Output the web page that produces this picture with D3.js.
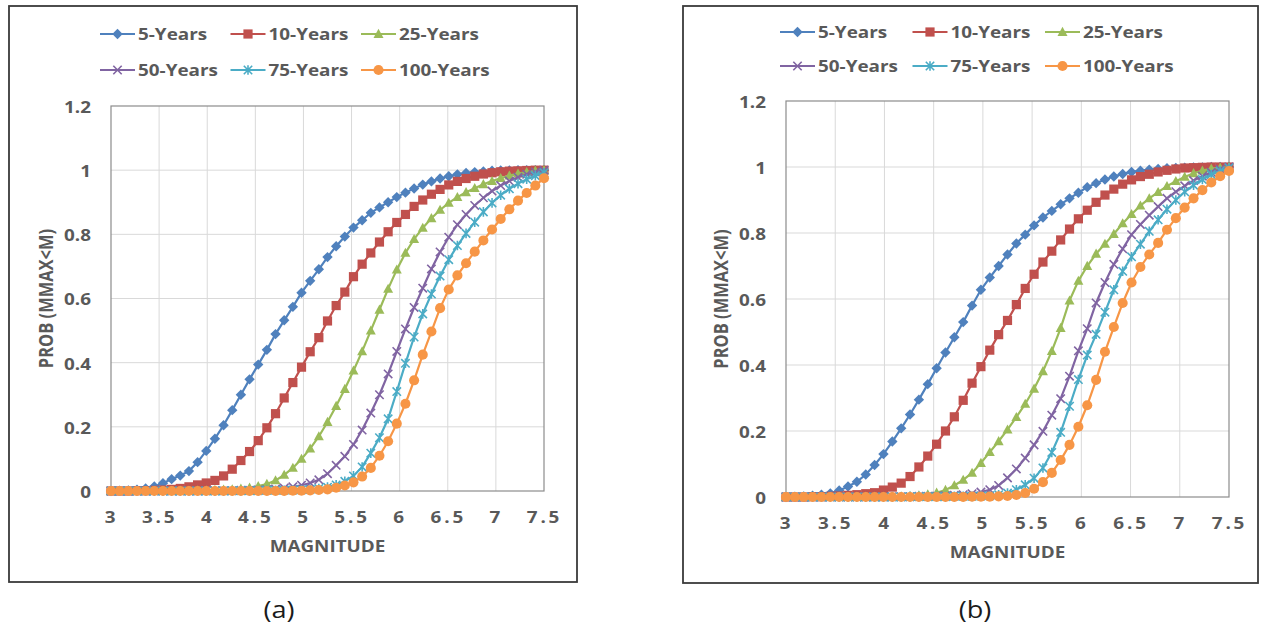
<!DOCTYPE html>
<html>
<head>
<meta charset="utf-8">
<script src="https://cdn.jsdelivr.net/npm/d3@7"></script>
<style>
  body { margin: 0; background: #fff; }
  text { font-family: 'Open Sans', sans-serif; }
</style>
</head>
<body>
<div id="mount"></div>
<script>
'use strict';

// the source picture is stretched sideways, so text gets a small x-scale
const SX = 1.18;

const magnitudes = [3.00, 3.09, 3.18, 3.27, 3.36, 3.45, 3.54, 3.63, 3.72, 3.81,
  3.90, 3.99, 4.08, 4.17, 4.26, 4.35, 4.44, 4.53, 4.62, 4.71,
  4.80, 4.89, 4.98, 5.07, 5.16, 5.25, 5.34, 5.43, 5.52, 5.61,
  5.70, 5.79, 5.88, 5.97, 6.06, 6.15, 6.24, 6.33, 6.42, 6.51,
  6.60, 6.69, 6.78, 6.87, 6.96, 7.05, 7.14, 7.23, 7.32, 7.41, 7.50];

const seriesNames = ['5-Years', '10-Years', '25-Years', '50-Years', '75-Years', '100-Years'];
const seriesColors = ['#4F81BD', '#C0504D', '#9BBB59', '#8064A2', '#4BACC6', '#F79646'];
const seriesMarkers = ['diamond', 'square', 'triangle', 'x', 'asterisk', 'circle'];

const xTicks = [3, 3.5, 4, 4.5, 5, 5.5, 6, 6.5, 7, 7.5];
const yTicks = [0, 0.2, 0.4, 0.6, 0.8, 1, 1.2];

// panel (a)
const probA5 = [0.000, 0.001, 0.002, 0.004, 0.008, 0.014, 0.024, 0.037, 0.048, 0.062,
  0.090, 0.125, 0.163, 0.205, 0.252, 0.300, 0.348, 0.394, 0.440, 0.489,
  0.532, 0.574, 0.618, 0.655, 0.691, 0.729, 0.763, 0.793, 0.821, 0.844,
  0.867, 0.884, 0.900, 0.916, 0.930, 0.943, 0.955, 0.965, 0.974, 0.981,
  0.987, 0.991, 0.994, 0.996, 0.998, 0.999, 0.999, 1.000, 1.000, 1.000, 1.000];
const probA10 = [0.000, 0.000, 0.000, 0.001, 0.001, 0.002, 0.003, 0.005, 0.008, 0.013,
  0.019, 0.025, 0.033, 0.047, 0.068, 0.095, 0.123, 0.157, 0.197, 0.241,
  0.290, 0.338, 0.386, 0.434, 0.478, 0.530, 0.578, 0.620, 0.668, 0.707,
  0.742, 0.776, 0.808, 0.837, 0.862, 0.887, 0.907, 0.925, 0.940, 0.954,
  0.965, 0.974, 0.981, 0.988, 0.992, 0.995, 0.997, 0.998, 0.999, 1.000, 1.000];
const probA25 = [0.000, 0.000, 0.000, 0.000, 0.000, 0.000, 0.000, 0.001, 0.001, 0.001,
  0.002, 0.002, 0.003, 0.004, 0.005, 0.007, 0.010, 0.015, 0.022, 0.033,
  0.050, 0.072, 0.100, 0.132, 0.170, 0.215, 0.265, 0.318, 0.375, 0.435,
  0.500, 0.565, 0.630, 0.690, 0.742, 0.785, 0.820, 0.850, 0.876, 0.898,
  0.916, 0.931, 0.944, 0.956, 0.966, 0.975, 0.983, 0.989, 0.994, 0.998, 1.000];
const probA50 = [0.000, 0.000, 0.000, 0.000, 0.000, 0.000, 0.000, 0.000, 0.000, 0.000,
  0.000, 0.001, 0.001, 0.001, 0.001, 0.002, 0.002, 0.003, 0.004, 0.006,
  0.009, 0.013, 0.018, 0.025, 0.035, 0.054, 0.080, 0.108, 0.145, 0.190,
  0.243, 0.300, 0.365, 0.435, 0.505, 0.572, 0.632, 0.692, 0.745, 0.791,
  0.830, 0.862, 0.890, 0.914, 0.935, 0.952, 0.966, 0.978, 0.987, 0.994, 1.000];
const probA75 = [0.000, 0.000, 0.000, 0.000, 0.000, 0.000, 0.000, 0.000, 0.000, 0.000,
  0.000, 0.000, 0.000, 0.000, 0.001, 0.001, 0.001, 0.001, 0.002, 0.002,
  0.002, 0.003, 0.004, 0.005, 0.008, 0.012, 0.019, 0.030, 0.047, 0.075,
  0.118, 0.166, 0.225, 0.310, 0.398, 0.480, 0.552, 0.614, 0.670, 0.721,
  0.765, 0.803, 0.838, 0.870, 0.898, 0.922, 0.942, 0.958, 0.972, 0.983, 0.992];
const probA100 = [0.000, 0.000, 0.000, 0.000, 0.000, 0.000, 0.000, 0.000, 0.000, 0.000,
  0.000, 0.000, 0.000, 0.000, 0.000, 0.000, 0.000, 0.000, 0.000, 0.000,
  0.000, 0.001, 0.001, 0.002, 0.003, 0.005, 0.010, 0.017, 0.027, 0.045,
  0.072, 0.110, 0.155, 0.210, 0.272, 0.345, 0.425, 0.497, 0.570, 0.628,
  0.672, 0.710, 0.746, 0.781, 0.815, 0.848, 0.878, 0.905, 0.929, 0.952, 0.975];

// panel (b)
const probB5 = [0.000, 0.001, 0.002, 0.004, 0.007, 0.011, 0.020, 0.032, 0.046, 0.068,
  0.097, 0.130, 0.168, 0.208, 0.250, 0.295, 0.342, 0.390, 0.438, 0.484,
  0.530, 0.580, 0.628, 0.665, 0.700, 0.735, 0.768, 0.795, 0.823, 0.847,
  0.867, 0.887, 0.905, 0.922, 0.939, 0.951, 0.962, 0.971, 0.979, 0.985,
  0.989, 0.992, 0.994, 0.996, 0.997, 0.998, 0.999, 0.999, 1.000, 1.000, 1.000];
const probB10 = [0.000, 0.000, 0.000, 0.001, 0.001, 0.002, 0.003, 0.005, 0.007, 0.010,
  0.013, 0.021, 0.030, 0.042, 0.062, 0.091, 0.124, 0.160, 0.200, 0.243,
  0.293, 0.345, 0.395, 0.445, 0.492, 0.535, 0.583, 0.632, 0.675, 0.712,
  0.745, 0.779, 0.812, 0.843, 0.869, 0.893, 0.915, 0.933, 0.948, 0.961,
  0.971, 0.978, 0.985, 0.990, 0.994, 0.997, 0.998, 0.999, 1.000, 1.000, 1.000];
const probB25 = [0.000, 0.000, 0.000, 0.000, 0.000, 0.000, 0.000, 0.000, 0.001, 0.001,
  0.001, 0.001, 0.002, 0.002, 0.003, 0.005, 0.008, 0.013, 0.021, 0.035,
  0.052, 0.073, 0.103, 0.136, 0.169, 0.204, 0.242, 0.282, 0.328, 0.381,
  0.442, 0.512, 0.595, 0.655, 0.700, 0.737, 0.767, 0.797, 0.829, 0.857,
  0.883, 0.905, 0.924, 0.942, 0.957, 0.970, 0.981, 0.989, 0.995, 0.998, 1.000];
const probB50 = [0.000, 0.000, 0.000, 0.000, 0.000, 0.000, 0.000, 0.000, 0.000, 0.000,
  0.000, 0.000, 0.001, 0.001, 0.001, 0.002, 0.002, 0.003, 0.004, 0.005,
  0.007, 0.010, 0.015, 0.022, 0.035, 0.058, 0.085, 0.118, 0.158, 0.199,
  0.248, 0.298, 0.366, 0.443, 0.510, 0.588, 0.650, 0.705, 0.752, 0.795,
  0.826, 0.854, 0.880, 0.905, 0.925, 0.943, 0.959, 0.972, 0.984, 0.993, 1.000];
const probB75 = [0.000, 0.000, 0.000, 0.000, 0.000, 0.000, 0.000, 0.000, 0.000, 0.000,
  0.000, 0.000, 0.000, 0.000, 0.001, 0.001, 0.001, 0.001, 0.001, 0.002,
  0.002, 0.002, 0.003, 0.004, 0.007, 0.012, 0.022, 0.037, 0.057, 0.088,
  0.135, 0.196, 0.275, 0.356, 0.430, 0.493, 0.560, 0.628, 0.684, 0.728,
  0.766, 0.805, 0.840, 0.872, 0.900, 0.925, 0.945, 0.962, 0.977, 0.988, 0.997];
const probB100 = [0.000, 0.000, 0.000, 0.000, 0.000, 0.000, 0.000, 0.000, 0.000, 0.000,
  0.000, 0.000, 0.000, 0.000, 0.000, 0.000, 0.000, 0.000, 0.000, 0.000,
  0.000, 0.001, 0.001, 0.001, 0.002, 0.003, 0.006, 0.012, 0.025, 0.045,
  0.073, 0.112, 0.158, 0.213, 0.278, 0.355, 0.440, 0.515, 0.588, 0.650,
  0.697, 0.735, 0.770, 0.810, 0.845, 0.877, 0.905, 0.930, 0.953, 0.972, 0.988];

// where each panel sits on the page
const panels = [
  { frame: { x0: 9, y0: 6, x1: 577, y1: 582 },
    plot: { left: 111, right: 544, top: 106, bottom: 491 },
    legend: { x: 100, step: 130.5, rows: [34, 70] },
    tag: '(a)', tagX: 279,
    series: [probA5, probA10, probA25, probA50, probA75, probA100] },
  { frame: { x0: 683, y0: 6, x1: 1258, y1: 583 },
    plot: { left: 786, right: 1229, top: 101, bottom: 497 },
    legend: { x: 780, step: 132.5, rows: [32, 66] },
    tag: '(b)', tagX: 975,
    series: [probB5, probB10, probB25, probB50, probB75, probB100] }
];

const svg = d3.select('#mount').append('svg')
    .attr('width', 1263)
    .attr('height', 628);

svg.append('rect')
    .attr('width', 1263)
    .attr('height', 628)
    .attr('fill', '#fff');

// marker shapes, centred on 0,0
function markerPath(kind) {
  switch (kind) {
    case 'diamond': return 'M0,-5.2L5.2,0L0,5.2L-5.2,0Z';
    case 'square': return 'M-4.6,-4.6H4.6V4.6H-4.6Z';
    case 'triangle': return 'M0,-5.2L5,3.9L-5,3.9Z';
    case 'x': return 'M-4.2,-4.2L4.2,4.2M-4.2,4.2L4.2,-4.2';
    case 'asterisk': return 'M-4.2,-4.2L4.2,4.2M-4.2,4.2L4.2,-4.2M0,-4.8L0,4.8';
    case 'circle': return d3.symbol(d3.symbolCircle, 80)();
  }
}

function drawMarker(sel, kind, color) {
  const stroked = kind === 'x' || kind === 'asterisk';
  sel.attr('d', markerPath(kind))
      .attr('fill', stroked ? 'none' : color)
      .attr('stroke', stroked ? color : 'none')
      .attr('stroke-width', stroked ? 1.6 : 0);
}

function stretchedText(g, x, y, str) {
  return g.append('text')
      .attr('transform', `translate(${x},${y}) scale(${SX},1)`)
      .attr('dominant-baseline', 'central')
      .attr('font-size', 16)
      .attr('font-weight', 700)
      .attr('fill', '#595959')
      .text(str);
}

function drawPanel(p) {
  const g = svg.append('g');
  const box = p.plot;

  const x = d3.scaleLinear().domain([3, 7.5]).range([box.left, box.right]);
  const y = d3.scaleLinear().domain([0, 1.2]).range([box.bottom, box.top]);

  // outer frame
  g.append('rect')
      .attr('x', p.frame.x0)
      .attr('y', p.frame.y0)
      .attr('width', p.frame.x1 - p.frame.x0)
      .attr('height', p.frame.y1 - p.frame.y0)
      .attr('fill', 'none')
      .attr('stroke', '#3a3a3a')
      .attr('stroke-width', 1.8);

  // gridlines
  g.append('g').selectAll('line')
      .data(xTicks.slice(1, -1))
    .join('line')
      .attr('x1', d => x(d)).attr('x2', d => x(d))
      .attr('y1', box.top).attr('y2', box.bottom)
      .attr('stroke', '#d9d9d9');

  g.append('g').selectAll('line')
      .data(yTicks.slice(1, -1))
    .join('line')
      .attr('x1', box.left).attr('x2', box.right)
      .attr('y1', d => y(d)).attr('y2', d => y(d))
      .attr('stroke', '#d9d9d9');

  // plot area border
  g.append('rect')
      .attr('x', box.left)
      .attr('y', box.top)
      .attr('width', box.right - box.left)
      .attr('height', box.bottom - box.top)
      .attr('fill', 'none')
      .attr('stroke', '#8c8c8c')
      .attr('stroke-width', 1.2);

  // axes: labels only
  const yAxis = g.append('g')
      .attr('transform', `translate(${box.left},0)`)
      .call(d3.axisLeft(y).tickValues(yTicks).tickSize(0).tickFormat(d => String(d)));
  yAxis.select('.domain').remove();
  yAxis.selectAll('text')
      .attr('x', -20 / SX)
      .attr('dy', null)
      .attr('dominant-baseline', 'central')
      .attr('transform', `scale(${SX},1)`);

  const xAxis = g.append('g')
      .attr('transform', `translate(0,${box.bottom})`)
      .call(d3.axisBottom(x).tickValues(xTicks).tickSize(0).tickFormat(d => String(d)));
  xAxis.select('.domain').remove();
  xAxis.selectAll('text')
      .attr('y', 26)
      .attr('dy', null)
      .attr('dominant-baseline', 'central')
      .attr('letter-spacing', 2.4)
      .attr('transform', `scale(${SX},1)`);

  g.selectAll('.tick text')
      .attr('font-family', "'Open Sans', sans-serif")
      .attr('font-size', 16)
      .attr('font-weight', 700)
      .attr('fill', '#595959');
  g.selectAll('.tick line').remove();

  // axis titles
  stretchedText(g, (box.left + box.right) / 2, box.bottom + 55, 'MAGNITUDE')
      .attr('text-anchor', 'middle');

  g.append('text')
      .attr('transform', `translate(${box.left - 66},${(box.top + box.bottom) / 2}) scale(${SX},1) rotate(-90)`)
      .attr('text-anchor', 'middle')
      .attr('dominant-baseline', 'central')
      .attr('font-size', 16.5)
      .attr('font-weight', 700)
      .attr('fill', '#595959')
      .text('PROB (MMAX<M)');

  // series: line then markers, in legend order so 100-Years ends on top
  const line = d3.line()
      .x((d, i) => x(magnitudes[i]))
      .y(d => y(d));

  p.series.forEach((values, s) => {
    const sg = g.append('g');
    sg.append('path')
        .attr('d', line(values))
        .attr('fill', 'none')
        .attr('stroke', seriesColors[s])
        .attr('stroke-width', 2.2);
    sg.selectAll('path.mark')
        .data(values)
      .join('path')
        .attr('class', 'mark')
        .attr('transform', (d, i) => `translate(${x(magnitudes[i])},${y(d)})`)
        .call(drawMarker, seriesMarkers[s], seriesColors[s]);
  });

  // legend, 3 entries per row
  seriesNames.forEach((name, s) => {
    const lx = p.legend.x + (s % 3) * p.legend.step;
    const ly = p.legend.rows[Math.floor(s / 3)];
    const lg = g.append('g');
    lg.append('line')
        .attr('x1', lx).attr('x2', lx + 35)
        .attr('y1', ly).attr('y2', ly)
        .attr('stroke', seriesColors[s])
        .attr('stroke-width', 2.2);
    lg.append('path')
        .attr('transform', `translate(${lx + 17.5},${ly})`)
        .call(drawMarker, seriesMarkers[s], seriesColors[s]);
    stretchedText(lg, lx + 38, ly, name);
  });

  // panel tag under the frame
  g.append('text')
      .attr('transform', `translate(${p.tagX},609) scale(${SX},1)`)
      .attr('text-anchor', 'middle')
      .attr('dominant-baseline', 'central')
      .attr('font-size', 23)
      .attr('fill', '#1a1a1a')
      .text(p.tag);
}

panels.forEach(drawPanel);
</script>
</body>
</html>
